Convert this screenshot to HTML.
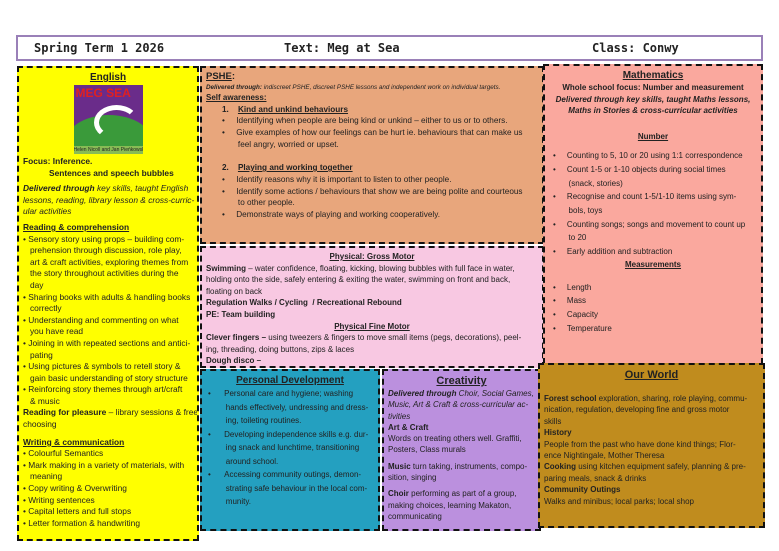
<!DOCTYPE html>
<html><head><meta charset="utf-8"><style>
body{margin:0;width:779px;height:551px;background:#fff;position:relative;overflow:hidden;font-family:"Liberation Sans",sans-serif;color:#222;}
.b{position:absolute;box-sizing:border-box;border:2px dashed #111;font-size:8px;line-height:11.6px;white-space:nowrap;overflow:hidden;}
.t{position:absolute;white-space:nowrap;}
u{text-decoration:underline}
.c{text-align:center}
</style></head><body>
<div style="position:absolute;left:16px;top:35px;width:747px;height:26px;border:2px solid #9a80b8;box-sizing:border-box;font:bold 12px 'DejaVu Sans Mono','Liberation Mono',monospace;">
<span class="t" style="left:16px;top:4px">Spring Term 1 2026</span>
<span class="t" style="left:266px;top:4px">Text: Meg at Sea</span>
<span class="t" style="left:574px;top:4px">Class: Conwy</span>
</div>

<div class="b" style="left:17px;top:66px;width:182px;height:475px;background:#ffff00;padding:3px 4px;font-size:8.4px">
<div class="c" style="font-weight:bold;font-size:10px;line-height:13px"><u>English</u></div>
<div style="margin:1px auto 0;width:69px;height:69px;background:#6a2c8a;position:relative;overflow:hidden">
<div style="position:absolute;left:-10px;top:30px;width:90px;height:60px;border-radius:50%;background:#3a9a3a"></div>
<div style="position:absolute;left:20px;top:20px;width:35px;height:25px;border-radius:50%;border:5px solid #fff;border-color:#fff transparent transparent #fff"></div>
<div style="position:absolute;left:2px;top:1px;font:bold 12px 'Liberation Sans';color:#e02020">MEG SEA</div>
<div style="position:absolute;left:0;bottom:0;width:69px;height:8px;background:#8b5;font-size:5px;line-height:8px;color:#222">Helen Nicoll and Jan Pieńkowski</div>
</div>
<div style="font-weight:bold;margin-top:2px">Focus: Inference.</div>
<div style="font-weight:bold;padding-left:26px">Sentences and speech bubbles</div>
<div style="margin-top:4px;font-style:italic"><b>Delivered through</b> key skills, taught English<br>lessons, reading, library lesson &amp; cross-curric-<br>ular activities</div>
<div style="margin-top:4px;font-weight:bold"><u>Reading &amp; comprehension</u></div>
<div>• Sensory story using props – building com-<br>&nbsp;&nbsp;&nbsp;prehension through discussion, role play,<br>&nbsp;&nbsp;&nbsp;art &amp; craft activities, exploring themes from<br>&nbsp;&nbsp;&nbsp;the story throughout activities during the<br>&nbsp;&nbsp;&nbsp;day<br>• Sharing books with adults &amp; handling books<br>&nbsp;&nbsp;&nbsp;correctly<br>• Understanding and commenting on what<br>&nbsp;&nbsp;&nbsp;you have read<br>• Joining in with repeated sections and antici-<br>&nbsp;&nbsp;&nbsp;pating<br>• Using pictures &amp; symbols to retell story &amp;<br>&nbsp;&nbsp;&nbsp;gain basic understanding of story structure<br>• Reinforcing story themes through art/craft<br>&nbsp;&nbsp;&nbsp;&amp; music<br><b>Reading for pleasure</b> – library sessions &amp; free<br>choosing</div>
<div style="margin-top:6px;font-weight:bold"><u>Writing &amp; communication</u></div>
<div>• Colourful Semantics<br>• Mark making in a variety of materials, with<br>&nbsp;&nbsp;&nbsp;meaning<br>• Copy writing &amp; Overwriting<br>• Writing sentences<br>• Capital letters and full stops<br>• Letter formation &amp; handwriting</div>
</div>

<div class="b" style="left:200px;top:66px;width:344px;height:178px;background:#e8a67c;padding:3px 4px;">
<div style="font-weight:bold;font-size:9.5px;line-height:12px"><u>PSHE</u>:</div>
<div style="font-size:6.3px;line-height:9px;font-style:italic"><b>Delivered through:</b> indiscreet PSHE, discreet PSHE lessons and independent work on individual targets.</div>
<div style="font-weight:bold"><u>Self awareness:</u></div>
<div style="padding-left:16px;line-height:11.7px;font-size:8.2px">
<b>1.&nbsp;&nbsp;&nbsp;&nbsp;<u>Kind and unkind behaviours</u></b><br>
•&nbsp;&nbsp;&nbsp;&nbsp;&nbsp;Identifying when people are being kind or unkind – either to us or to others.<br>
•&nbsp;&nbsp;&nbsp;&nbsp;&nbsp;Give examples of how our feelings can be hurt ie. behaviours that can make us<br>
&nbsp;&nbsp;&nbsp;&nbsp;&nbsp;&nbsp;&nbsp;feel angry, worried or upset.<br><br>
<b>2.&nbsp;&nbsp;&nbsp;&nbsp;<u>Playing and working together</u></b><br>
•&nbsp;&nbsp;&nbsp;&nbsp;&nbsp;Identify reasons why it is important to listen to other people.<br>
•&nbsp;&nbsp;&nbsp;&nbsp;&nbsp;Identify some actions / behaviours that show we are being polite and courteous<br>
&nbsp;&nbsp;&nbsp;&nbsp;&nbsp;&nbsp;&nbsp;to other people.<br>
•&nbsp;&nbsp;&nbsp;&nbsp;&nbsp;Demonstrate ways of playing and working cooperatively.</div>
</div>

<div class="b" style="left:200px;top:246px;width:344px;height:122px;background:#f8c8e2;padding:3px 4px;">
<div class="c" style="font-weight:bold"><u>Physical: Gross Motor</u></div>
<div><b>Swimming</b> – water confidence, floating, kicking, blowing bubbles with full face in water,<br>holding onto the side, safely entering &amp; exiting the water, swimming on front and back,<br>floating on back</div>
<div style="font-weight:bold">Regulation Walks / Cycling&nbsp; / Recreational Rebound<br>PE: Team building</div>
<div class="c" style="font-weight:bold"><u>Physical Fine Motor</u></div>
<div><b>Clever fingers –</b> using tweezers &amp; fingers to move small items (pegs, decorations), peel-<br>ing, threading, doing buttons, zips &amp; laces<br><b>Dough disco –</b></div>
</div>

<div class="b" style="left:543px;top:64px;width:220px;height:300px;background:#faa89e;padding:4px 4px;border-bottom:none">
<div class="c" style="font-weight:bold;font-size:10px;line-height:12px"><u>Mathematics</u></div>
<div class="c" style="font-weight:bold;line-height:11.5px">Whole school focus: Number and measurement<br><i>Delivered through key skills, taught Maths lessons,<br>Maths in Stories &amp; cross-curricular activities</i></div>
<div class="c" style="font-weight:bold;margin-top:14px"><u>Number</u></div>
<div style="line-height:13.7px;margin-top:7px;padding-left:4px">•&nbsp;&nbsp;&nbsp;&nbsp;&nbsp;Counting to 5, 10 or 20 using 1:1 correspondence<br>•&nbsp;&nbsp;&nbsp;&nbsp;&nbsp;Count 1-5 or 1-10 objects during social times<br>&nbsp;&nbsp;&nbsp;&nbsp;&nbsp;&nbsp;&nbsp;(snack, stories)<br>•&nbsp;&nbsp;&nbsp;&nbsp;&nbsp;Recognise and count 1-5/1-10 items using sym-<br>&nbsp;&nbsp;&nbsp;&nbsp;&nbsp;&nbsp;&nbsp;bols, toys<br>•&nbsp;&nbsp;&nbsp;&nbsp;&nbsp;Counting songs; songs and movement to count up<br>&nbsp;&nbsp;&nbsp;&nbsp;&nbsp;&nbsp;&nbsp;to 20<br>•&nbsp;&nbsp;&nbsp;&nbsp;&nbsp;Early addition and subtraction</div>
<div class="c" style="font-weight:bold;line-height:12px"><u>Measurements</u></div>
<div style="line-height:13.7px;margin-top:10px;padding-left:4px">•&nbsp;&nbsp;&nbsp;&nbsp;&nbsp;Length<br>•&nbsp;&nbsp;&nbsp;&nbsp;&nbsp;Mass<br>•&nbsp;&nbsp;&nbsp;&nbsp;&nbsp;Capacity<br>•&nbsp;&nbsp;&nbsp;&nbsp;&nbsp;Temperature</div>
</div>

<div class="b" style="left:200px;top:369px;width:180px;height:162px;background:#24a0c0;padding:3px 4px;">
<div class="c" style="font-weight:bold;font-size:10px;line-height:13px"><u>Personal Development</u></div>
<div style="line-height:13.5px;padding-left:2px">•&nbsp;&nbsp;&nbsp;&nbsp;&nbsp;&nbsp;Personal care and hygiene; washing<br>&nbsp;&nbsp;&nbsp;&nbsp;&nbsp;&nbsp;&nbsp;&nbsp;hands effectively, undressing and dress-<br>&nbsp;&nbsp;&nbsp;&nbsp;&nbsp;&nbsp;&nbsp;&nbsp;ing, toileting routines.<br>•&nbsp;&nbsp;&nbsp;&nbsp;&nbsp;&nbsp;Developing independence skills e.g. dur-<br>&nbsp;&nbsp;&nbsp;&nbsp;&nbsp;&nbsp;&nbsp;&nbsp;ing snack and lunchtime, transitioning<br>&nbsp;&nbsp;&nbsp;&nbsp;&nbsp;&nbsp;&nbsp;&nbsp;around school.<br>•&nbsp;&nbsp;&nbsp;&nbsp;&nbsp;&nbsp;Accessing community outings, demon-<br>&nbsp;&nbsp;&nbsp;&nbsp;&nbsp;&nbsp;&nbsp;&nbsp;strating safe behaviour in the local com-<br>&nbsp;&nbsp;&nbsp;&nbsp;&nbsp;&nbsp;&nbsp;&nbsp;munity.</div>
</div>

<div class="b" style="left:382px;top:369px;width:159px;height:162px;background:#bb90de;padding:3px 4px;">
<div class="c" style="font-weight:bold;font-size:11px;line-height:14px"><u>Creativity</u></div>
<div style="font-style:italic;line-height:11.3px"><b>Delivered through</b> Choir, Social Games,<br>Music, Art &amp; Craft &amp; cross-curricular ac-<br>tivities</div>
<div style="line-height:11.3px"><b>Art &amp; Craft</b><br>Words on treating others well. Graffiti,<br>Posters, Class murals</div>
<div style="line-height:11.3px;margin-top:5px"><b>Music</b> turn taking, instruments, compo-<br>sition, singing</div>
<div style="line-height:11.3px;margin-top:5px"><b>Choir</b> performing as part of a group,<br>making choices, learning Makaton,<br>communicating</div>
</div>

<div class="b" style="left:538px;top:363px;width:227px;height:165px;background:#c08c1e;padding:3px 4px;">
<div class="c" style="font-weight:bold;font-size:11px;line-height:14px"><u>Our World</u></div>
<div style="margin-top:11px;line-height:11.4px"><b>Forest school</b> exploration, sharing, role playing, commu-<br>nication, regulation, developing fine and gross motor<br>skills<br><b>History</b><br>People from the past who have done kind things; Flor-<br>ence Nightingale, Mother Theresa<br><b>Cooking</b> using kitchen equipment safely, planning &amp; pre-<br>paring meals, snack &amp; drinks<br><b>Community Outings</b><br>Walks and minibus; local parks; local shop</div>
</div>
</body></html>
